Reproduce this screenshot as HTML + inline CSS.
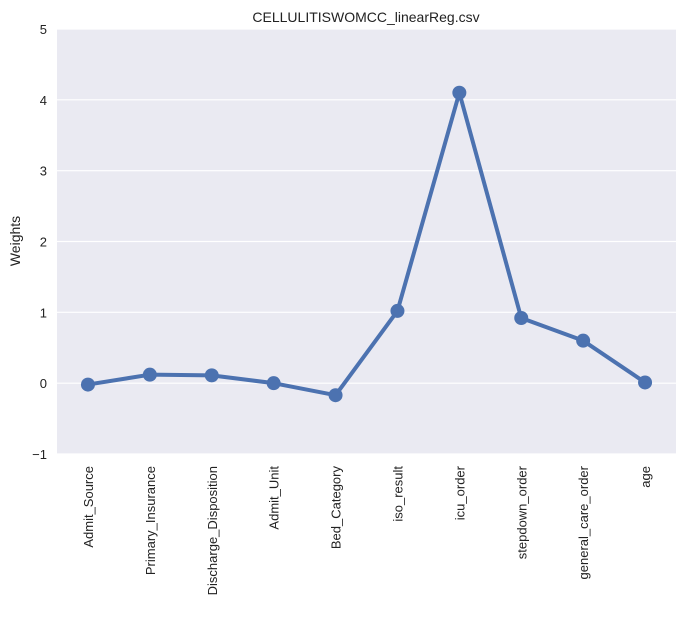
<!DOCTYPE html>
<html><head><meta charset="utf-8"><style>
body{margin:0;background:#fff;font-family:"Liberation Sans",sans-serif;}
</style></head><body>
<svg id="chart" width="686" height="613" xmlns="http://www.w3.org/2000/svg">
<text x="366" y="22" text-anchor="middle" font-size="14" fill="#222">CELLULITISWOMCC_linearReg.csv</text>
<rect x="57" y="29" width="619" height="425" fill="#eaeaf2"/>
<g id="grid"></g>
<g id="yticks"></g>
<g id="xticks"></g>
<text transform="translate(20,241) rotate(-90)" text-anchor="middle" font-size="14" fill="#222">Weights</text>
<g id="series"></g>
</svg>
<script>
const categories=["Admit_Source","Primary_Insurance","Discharge_Disposition","Admit_Unit","Bed_Category","iso_result","icu_order","stepdown_order","general_care_order","age"];
const weights=[-0.02,0.12,0.11,0.0,-0.17,1.02,4.1,0.92,0.6,0.01];
const yTicks=[-1,0,1,2,3,4,5];
const NS="http://www.w3.org/2000/svg";
const x0=57,w=619,yTop=29,yBot=454,yMin=-1,yMax=5;
const xs=i=>x0+w/categories.length*(i+0.5);
const ys=v=>yBot-(v-yMin)/(yMax-yMin)*(yBot-yTop);
function mk(t,a,p){const e=document.createElementNS(NS,t);for(const k in a)e.setAttribute(k,a[k]);p.appendChild(e);return e;}
const grid=document.getElementById('grid'),yt=document.getElementById('yticks'),xt=document.getElementById('xticks'),ser=document.getElementById('series');
yTicks.forEach(v=>{
 const l=mk('line',{x1:x0,x2:x0+w,y1:ys(v),y2:ys(v),stroke:'#fff','stroke-width':1.2},grid);
 
 
 const t=mk('text',{x:47,y:ys(v)+5,'text-anchor':'end','font-size':13,fill:'#222'},yt);
 t.textContent=v<0?'\u2212'+Math.abs(v):v;
 
 
});
categories.forEach((c,i)=>{
 const t=mk('text',{transform:`translate(${xs(i)+5},466) rotate(-90)`,'text-anchor':'end','font-size':13,fill:'#222'},xt);
 t.textContent=c;
 
 
});
const p=mk('polyline',{points:weights.map((v,i)=>xs(i)+','+ys(v)).join(' '),fill:'none',stroke:'#4c72b0','stroke-width':4,'stroke-linejoin':'round'},ser);


weights.forEach((v,i)=>{
 const c=mk('circle',{cx:xs(i),cy:ys(v),r:7,fill:'#4c72b0'},ser);
 
 
});
</script>
</body></html>
